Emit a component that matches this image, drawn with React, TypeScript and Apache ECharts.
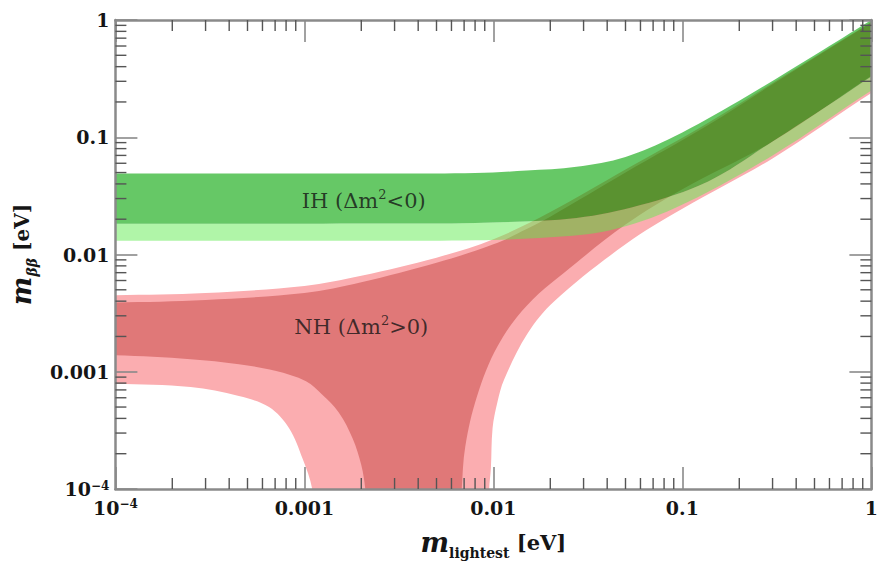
import React, { useEffect, useRef } from 'react';
import * as echarts from 'echarts';

// ---------- data ----------
const tickValues = [1e-4, 1e-3, 1e-2, 1e-1, 1];
const tickLabels = ['10^-4', '0.001', '0.01', '0.1', '1'];
const minorMultipliers = [2, 3, 4, 5, 6, 7, 8, 9];

// Normal hierarchy, 3 sigma (light pink); end points beyond the frame are clipped
const nhOuterUpper: [number, number][] = [
  [6e-5, 0.0045], [1e-4, 0.0045], [3e-4, 0.0047], [1e-3, 0.0054], [2e-3, 0.0066], [5e-3, 0.0094],
  [1e-2, 0.0135], [2e-2, 0.023], [5e-2, 0.053], [0.137, 0.133], [0.3, 0.29], [1, 0.96], [1.5, 1.44],
];
const nhOuterLower: [number, number][] = [
  [6e-5, 0.00079], [1e-4, 0.00079], [2.5e-4, 0.00074], [4.5e-4, 0.00062], [6.5e-4, 0.0005],
  [8.3e-4, 0.00033], [9.8e-4, 0.00018], [1.1e-3, 1e-4], [1.16e-3, 4e-5], [0.0094, 4e-5],
  [0.0095, 1e-4], [0.0097, 0.00015], [0.0099, 0.00033], [0.0105, 0.00055], [0.0114, 0.00086],
  [0.0151, 0.0021], [0.021, 0.004], [0.05, 0.0122], [0.1, 0.0245], [0.3, 0.066], [1, 0.238], [1.5, 0.35],
];
// Normal hierarchy, best fit (dark red)
const nhInnerUpper: [number, number][] = [
  [6e-5, 0.0039], [1e-4, 0.0039], [3e-4, 0.0041], [1e-3, 0.0047], [2e-3, 0.0058], [5e-3, 0.0085],
  [1e-2, 0.0122], [1.5e-2, 0.0165], [2e-2, 0.021], [5e-2, 0.05], [0.137, 0.127], [0.3, 0.283],
  [1, 0.95], [1.5, 1.42],
];
const nhInnerLower: [number, number][] = [
  [6e-5, 0.00138], [1e-4, 0.00138], [2.5e-4, 0.00128], [4.5e-4, 0.00116], [7e-4, 0.00102],
  [1.02e-3, 0.00083], [1.24e-3, 0.00064], [1.52e-3, 0.00045], [1.8e-3, 0.00027], [2.0e-3, 0.00016],
  [2.1e-3, 1e-4], [2.2e-3, 4e-5], [0.0066, 4e-5], [0.0068, 1e-4], [0.0071, 0.00023],
  [0.0082, 0.00062], [0.0105, 0.00164], [0.0151, 0.0037], [0.0275, 0.0085], [0.05, 0.018],
  [0.1, 0.036], [0.3, 0.092], [1, 0.335], [1.5, 0.5],
];
// Inverted hierarchy, best fit (dark green)
const ihInnerUpper: [number, number][] = [
  [6e-5, 0.049], [1e-4, 0.049], [1e-3, 0.049], [3e-3, 0.049], [8e-3, 0.0495], [1.5e-2, 0.052],
  [2.75e-2, 0.056], [5e-2, 0.068], [9e-2, 0.101], [0.2, 0.205], [0.5, 0.5], [1, 1.0], [1.5, 1.5],
];
const ihInnerLower: [number, number][] = [
  [6e-5, 0.0183], [1e-4, 0.0183], [3e-3, 0.0184], [8e-3, 0.0186], [2.75e-2, 0.0205], [6e-2, 0.0264],
  [0.137, 0.042], [0.3, 0.092], [0.6, 0.19], [1, 0.33], [1.5, 0.5],
];
// Inverted hierarchy, 3 sigma lower edge (light green)
const ihOuterLower: [number, number][] = [
  [6e-5, 0.0131], [1e-4, 0.0131], [3e-3, 0.0131], [8e-3, 0.0132], [2e-2, 0.014], [4.1e-2, 0.016],
  [9.2e-2, 0.025], [0.3, 0.07], [1, 0.25], [1.5, 0.37],
];

const ihLabelPos: [number, number] = [0.00206, 0.0286];
const nhLabelPos: [number, number] = [0.0020, 0.00242];

// ---------- helpers ----------
const FONT = 'DejaVu Serif';
const TXT = '#151515';

const polygonOf = (upper: [number, number][], lower: [number, number][]) =>
  upper.concat(lower.slice().reverse());

function bandSeries(name: string, poly: [number, number][], fill: string, z: number) {
  return {
    type: 'custom',
    name,
    coordinateSystem: 'cartesian2d',
    xAxisIndex: 0,
    yAxisIndex: 0,
    clip: true,
    silent: true,
    z,
    data: poly,
    encode: { x: 0, y: 1 },
    renderItem: (params: any, api: any) => {
      if (params.dataIndex !== 0) return null;
      const pts = poly.map((p) => api.coord(p));
      return {
        type: 'polygon',
        shape: { points: pts, smooth: 0.35 },
        style: { fill, stroke: null },
      };
    },
  };
}

const labelFormatter = (value: number) => {
  const e = Math.round(Math.log10(value));
  const idx = e + 4;
  if (idx === 0) return '{b|10}{s|−4}';
  return '{b|' + tickLabels[idx] + '}';
};

const labelRich = {
  b: { fontFamily: FONT, fontWeight: 'bold', fontSize: 19, color: TXT },
  s: { fontFamily: FONT, fontWeight: 'bold', fontSize: 12, color: TXT, verticalAlign: 'top' },
};

const AXIS_LINE = { show: true, lineStyle: { color: '#8a8a8a', width: 2.5 } };
const MAJOR_TICK = { show: true, inside: true, length: 22, lineStyle: { color: '#8a8a8a', width: 1.6 } };
const MINOR_LEN = 11;

export default function App() {
  const ref = useRef<HTMLDivElement>(null);

  useEffect(() => {
    document.body.style.margin = '0';
    if (!ref.current) return;
    const chart = echarts.init(ref.current, undefined, { renderer: 'svg' });

    const minorTickValues: number[] = [];
    for (const d of tickValues.slice(0, 4)) {
      for (const m of minorMultipliers) minorTickValues.push(+(d * m).toPrecision(3));
    }

    const baseAxis = {
      type: 'log',
      logBase: 10,
      min: 1e-4,
      max: 1,
      splitLine: { show: false },
      minorTick: { show: false },
      axisLine: AXIS_LINE,
      axisTick: MAJOR_TICK,
      z: 10,
    };

    const option: any = {
      animation: false,
      backgroundColor: '#ffffff',
      grid: { left: 114, right: 2, top: 20, bottom: 71, containLabel: false },
      xAxis: [
        {
          ...baseAxis,
          position: 'bottom',
          axisLabel: {
            show: true,
            margin: 9,
            showMinLabel: true,
            showMaxLabel: true,
            formatter: labelFormatter,
            rich: labelRich,
          },
          name: '{m|m}{sub|lightest}{u| [eV]}',
          nameLocation: 'middle',
          nameGap: 40,
          nameTextStyle: {
            rich: {
              m: { fontFamily: FONT, fontStyle: 'italic', fontWeight: 'bold', fontSize: 27, color: TXT },
              sub: { fontFamily: FONT, fontWeight: 'bold', fontSize: 14, color: TXT, verticalAlign: 'bottom', padding: [0, 0, -4, 0] },
              u: { fontFamily: FONT, fontWeight: 'bold', fontSize: 21, color: TXT },
            },
          },
        },
        { ...baseAxis, position: 'top', axisLabel: { show: false } },
      ],
      yAxis: [
        {
          ...baseAxis,
          position: 'left',
          axisLabel: {
            show: true,
            margin: 6,
            showMinLabel: true,
            showMaxLabel: true,
            formatter: labelFormatter,
            rich: labelRich,
          },
          name: '{m|m}{sub|ββ}{u| [eV]}',
          nameLocation: 'middle',
          nameRotate: 90,
          nameGap: 70,
          nameTextStyle: {
            rich: {
              m: { fontFamily: FONT, fontStyle: 'italic', fontWeight: 'bold', fontSize: 27, color: TXT },
              sub: { fontFamily: FONT, fontStyle: 'italic', fontWeight: 'bold', fontSize: 14, color: TXT, verticalAlign: 'bottom', padding: [0, 0, -4, 0] },
              u: { fontFamily: FONT, fontWeight: 'bold', fontSize: 20, color: TXT },
            },
          },
        },
        { ...baseAxis, position: 'right', axisLabel: { show: false } },
      ],
      series: [
        bandSeries('NH 3σ', polygonOf(nhOuterUpper, nhOuterLower), '#fbadb0', 2),
        bandSeries('NH', polygonOf(nhInnerUpper, nhInnerLower), '#e07878', 3),
        bandSeries('IH 3σ', polygonOf(ihInnerLower, ihOuterLower), 'rgba(97,235,81,0.5)', 4),
        bandSeries('IH', polygonOf(ihInnerUpper, ihInnerLower), 'rgba(0,163,0,0.6)', 5),
        {
          type: 'custom',
          name: 'minor ticks',
          coordinateSystem: 'cartesian2d',
          silent: true,
          z: 11,
          data: minorTickValues.map((v) => [v, v]),
          encode: { x: 0, y: 1 },
          renderItem: (params: any, api: any) => {
            const v = api.value(0);
            const b = api.coord([v, 1e-4]);
            const t = api.coord([v, 1]);
            const l = api.coord([1e-4, v]);
            const r = api.coord([1, v]);
            const style = { stroke: '#555', lineWidth: 1.4 };
            return {
              type: 'group',
              children: [
                { type: 'line', shape: { x1: b[0], y1: b[1], x2: b[0], y2: b[1] - MINOR_LEN }, style },
                { type: 'line', shape: { x1: t[0], y1: t[1], x2: t[0], y2: t[1] + MINOR_LEN }, style },
                { type: 'line', shape: { x1: l[0], y1: l[1], x2: l[0] + MINOR_LEN, y2: l[1] }, style },
                { type: 'line', shape: { x1: r[0], y1: r[1], x2: r[0] - MINOR_LEN, y2: r[1] }, style },
              ],
            };
          },
        },
        {
          type: 'scatter',
          name: 'labels',
          silent: true,
          z: 12,
          symbolSize: 0,
          data: [
            { value: ihLabelPos, label: { formatter: '{t|IH (Δm}{p|2}{t|<0)}' } },
            { value: nhLabelPos, label: { formatter: '{t|NH (Δm}{p|2}{t|>0)}' } },
          ],
          label: {
            show: true,
            position: 'inside',
            rich: {
              t: { fontFamily: FONT, fontSize: 21, color: TXT, lineHeight: 26 },
              p: { fontFamily: FONT, fontSize: 13, color: TXT, verticalAlign: 'top', lineHeight: 14 },
            },
          },
        },
      ],
    };

    chart.setOption(option);
    return () => chart.dispose();
  }, []);

  return (
    <div
      ref={ref}
      style={{ position: 'absolute', left: 0, top: 0, width: 881, height: 565 }}
    />
  );
}
